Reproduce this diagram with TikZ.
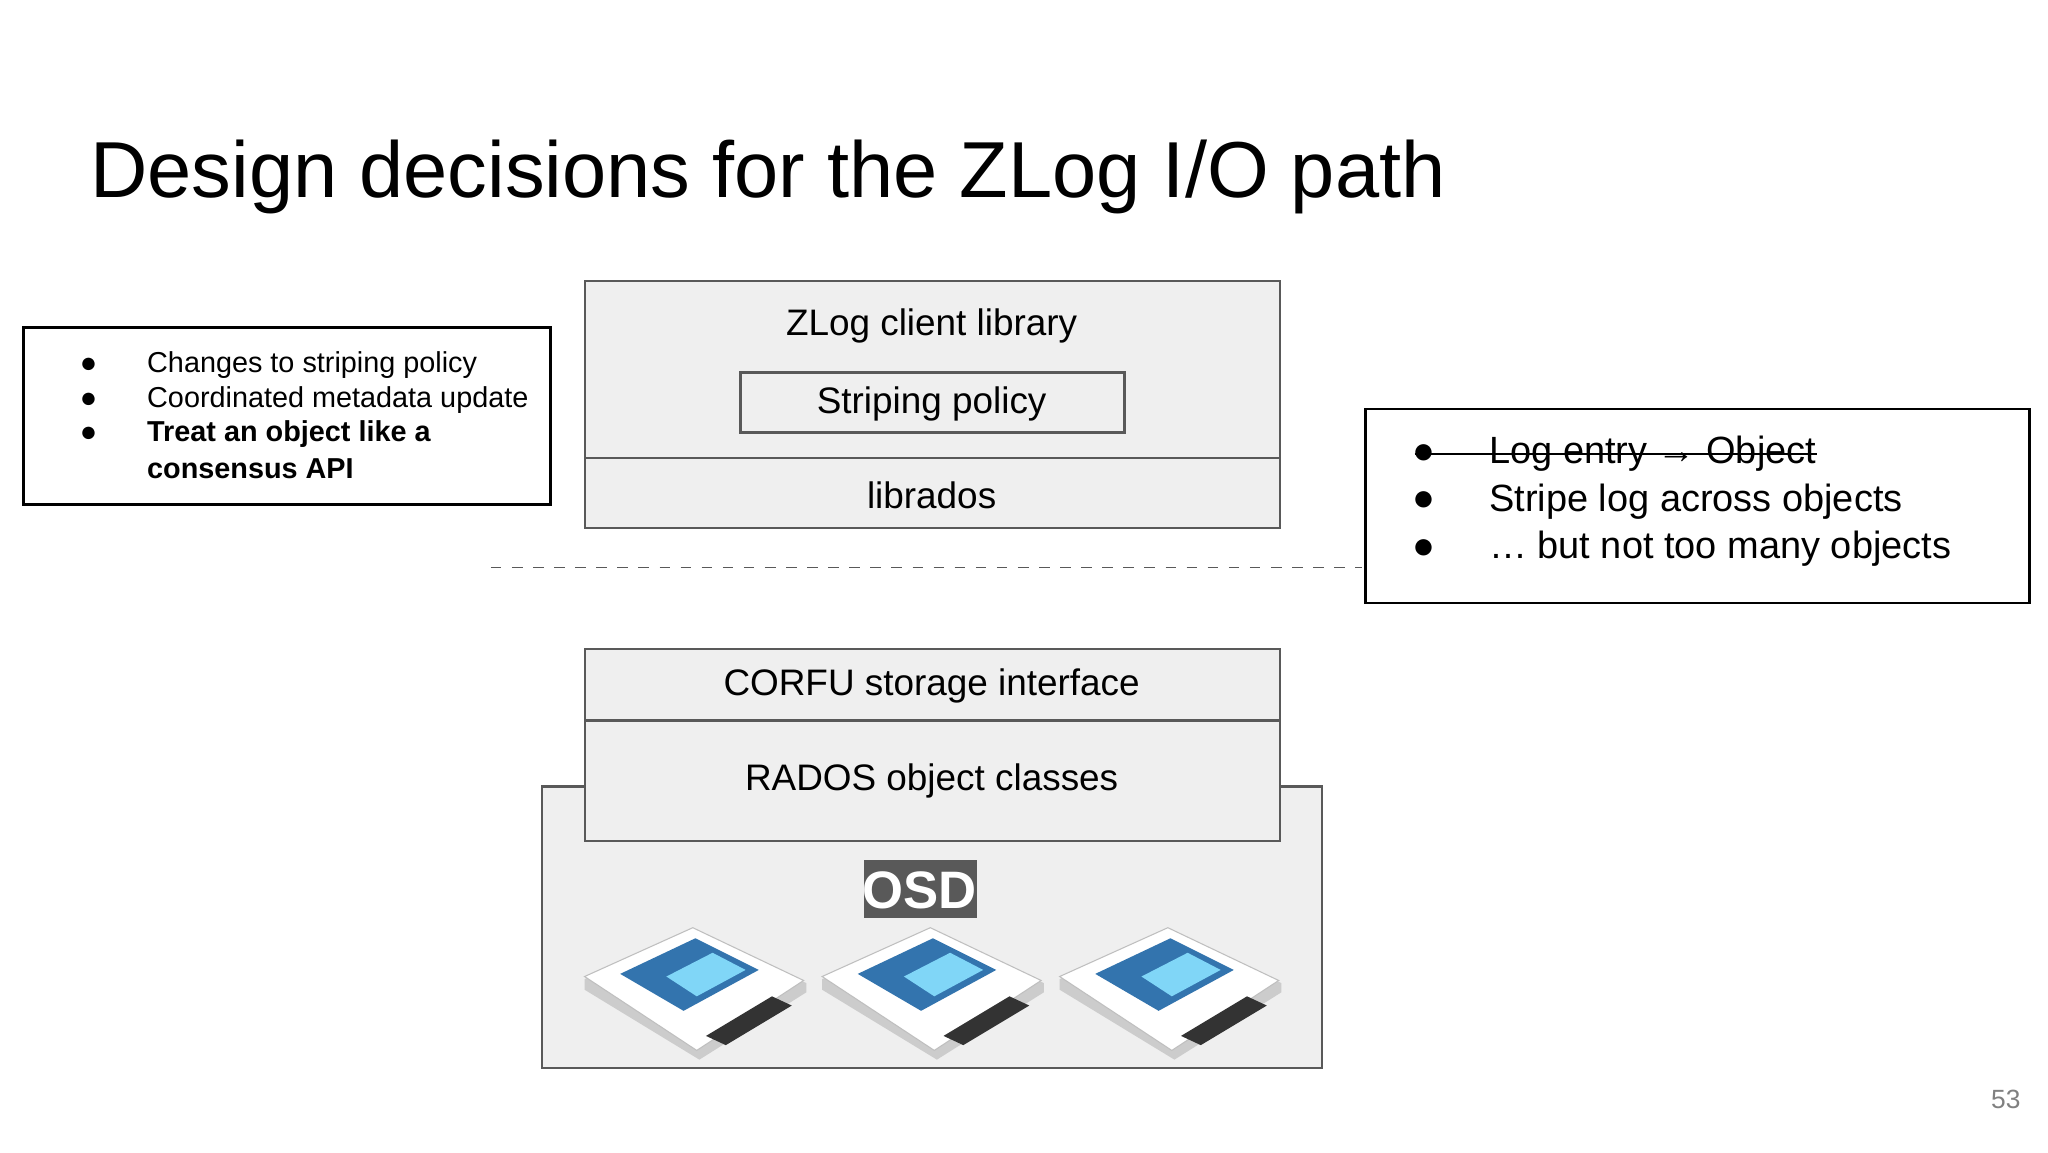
\documentclass[tikz,border=0pt]{standalone}
\usepackage{fontspec}
\setmainfont{Liberation Sans}
\usetikzlibrary{calc}
\definecolor{bx}{HTML}{EFEFEF}
\definecolor{bd}{HTML}{595959}
\begin{document}
\begin{tikzpicture}[x=0.013196cm,y=-0.013196cm,
  box/.style={draw=bd,fill=bx,line width=0.6pt},
  lbl/.style={font=\fontsize{10.5}{12}\selectfont,inner sep=0pt},
  sm/.style={font=\fontsize{8.2}{10}\selectfont,anchor=west,inner sep=0pt},
  rt/.style={font=\fontsize{10.8}{12}\selectfont,anchor=west,inner sep=0pt}]
\useasboundingbox[fill=white] (0,0) rectangle (1552,873);
\node[anchor=base west,font=\fontsize{22.6}{26}\selectfont,inner sep=0pt] (title) at (68,150) {Design decisions for the ZLog I/O path};
% left box
\draw[line width=0.8pt] (18,248) rectangle (417,382);
\foreach \y/\t/\f in {277/Changes to striping policy/, 303/Coordinated metadata update/, 329/Treat an object like a/\bfseries, 355/consensus API/\bfseries}{
  \node[sm,font=\fontsize{8.2}{10}\selectfont\f] at (111,\y) {\t};}
\foreach \y in {277,303,329}{\node[sm] at (60,\y) {●};}
% top stack
\draw[box] (443,213) rectangle (970,400);
\draw[bd,line width=0.6pt] (443,347) -- (970,347);
\node[lbl] (zlog) at (706,247) {ZLog client library};
\draw[bd,line width=0.8pt] (561,282) rectangle (852,328);
\node[lbl] (strip) at (706,306) {Striping policy};
\node[lbl] (lib) at (706,375) {librados};
% dashed
\coordinate (d1) at (372,430); \coordinate (d2) at (1032,430);
\draw[dashed,bd,line width=0.5pt] (d1) -- (d2);
% right box
\draw[line width=0.8pt] (1035,310) rectangle (1538,457);
\node[rt] at (1070,344) {●};
\node[rt] at (1070,380) {●};\node[rt] at (1070,416) {●};
\node[rt] (le) at (1128,344) {Log entry → Object};
\draw[line width=0.7pt] (1072,344) -- (le.east);
\node[rt] at (1128,380) {Stripe log across objects};
\node[rt] at (1128,416) {… but not too many objects};
% lower
\draw[box] (411,596) rectangle (1002,809);
\draw[box] (443,492) rectangle (970,546);
\draw[box] (443,546) rectangle (970,637);
\node[lbl] (corfu) at (706,520) {CORFU storage interface};
\node[lbl] (rados) at (706,592) {RADOS object classes};
\fill[bd] (655,652) rectangle (740,696);
\node[font=\fontsize{15}{16}\selectfont\bfseries,text=white,inner sep=0pt] (osd) at (697,675) {OSD};
% SSDs
\foreach \cx in {0,180,360}{
\begin{scope}[shift={(\cx,0)}]
\fill[gray!40] (443,742) -- (525,703) -- (611,745) -- (611,752) -- (530,803) -- (443,750) -- cycle;
\fill[white,draw=gray!50,line width=0.3pt] (443,740) -- (525,703) -- (609,743) -- (528,796) -- cycle;
\fill[cyan!60!blue!80!black] (470,738) -- (527,711) -- (575,735) -- (518,766) -- cycle;
\fill[cyan!50!white] (505,740) -- (540,722) -- (565,735) -- (528,755) -- cycle;
\fill[black!80] (535,785) -- (585,755) -- (600,762) -- (550,792) -- cycle;
\end{scope}}
\node[font=\fontsize{7.5}{9}\selectfont,text=gray,inner sep=0pt] (pg) at (1520,833) {53};
\end{tikzpicture}
\end{document}
